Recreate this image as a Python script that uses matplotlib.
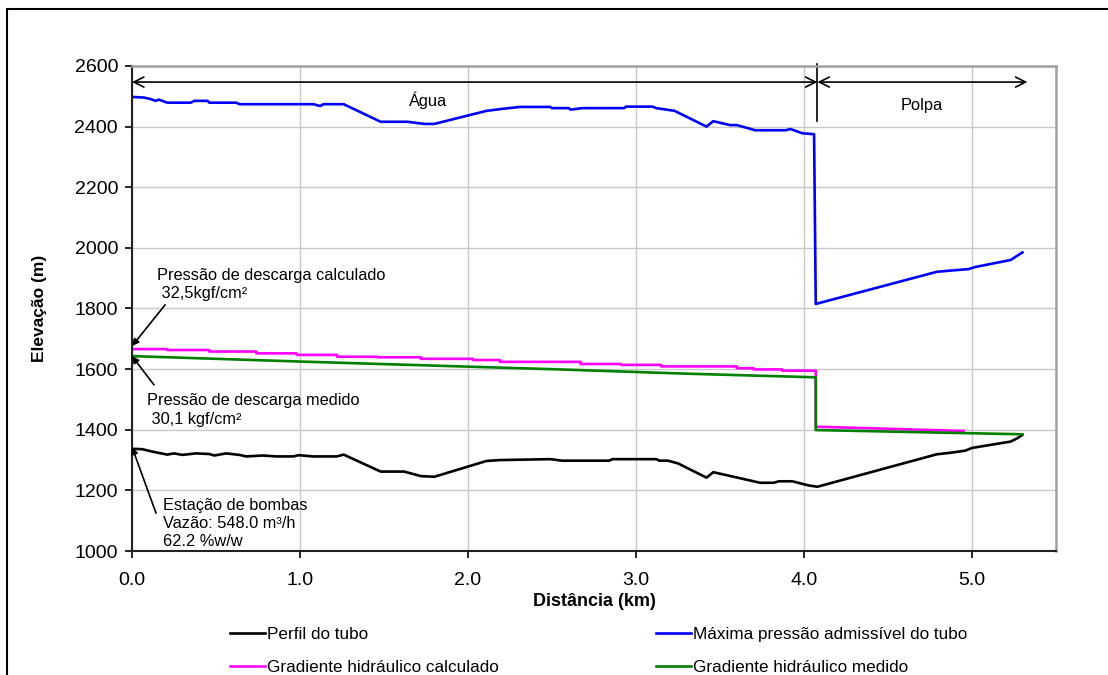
import matplotlib
matplotlib.use('Agg')
import matplotlib.pyplot as plt
from matplotlib.patches import Rectangle

plt.rcParams['font.family'] = ['Liberation Sans', 'DejaVu Sans']

# Perfil do tubo
perfil_x = [0.0, 0.06, 0.12, 0.21, 0.25, 0.30, 0.38, 0.46, 0.49, 0.56, 0.64, 0.68, 0.78, 0.86,
            0.96, 0.99, 1.08, 1.22, 1.26, 1.48, 1.62, 1.72, 1.80, 2.11, 2.19, 2.49, 2.56, 2.84,
            2.86, 3.12, 3.14, 3.19, 3.25, 3.42, 3.46, 3.58, 3.74, 3.82, 3.85, 3.93, 4.03, 4.08,
            4.79, 4.87, 4.96, 5.00, 5.23, 5.27, 5.30]
perfil_y = [1337, 1336, 1328, 1318, 1322, 1317, 1322, 1320, 1315, 1322, 1317, 1312, 1315, 1312,
            1312, 1316, 1312, 1312, 1318, 1262, 1262, 1247, 1245, 1297, 1300, 1303, 1298, 1298,
            1303, 1303, 1298, 1298, 1289, 1242, 1260, 1245, 1225, 1225, 1230, 1230, 1216, 1212,
            1319, 1324, 1331, 1340, 1361, 1372, 1383]

# Maxima pressao admissivel do tubo
maxp_x = [0.0, 0.07, 0.11, 0.14, 0.16, 0.21, 0.35, 0.37, 0.45, 0.46, 0.62, 0.64, 1.08, 1.12,
          1.14, 1.26, 1.48, 1.64, 1.74, 1.80, 2.11, 2.21, 2.31, 2.49, 2.50, 2.60, 2.61, 2.68,
          2.93, 2.94, 3.10, 3.12, 3.23, 3.42, 3.46, 3.56, 3.60, 3.71, 3.89, 3.92, 3.99, 4.06,
          4.07, 4.79, 4.85, 4.98, 5.02, 5.23, 5.30]
maxp_y = [2498, 2496, 2491, 2485, 2489, 2479, 2479, 2485, 2485, 2479, 2479, 2474, 2474, 2468,
          2474, 2474, 2416, 2416, 2409, 2409, 2452, 2459, 2465, 2465, 2461, 2461, 2456, 2461,
          2461, 2466, 2466, 2461, 2452, 2400, 2418, 2405, 2405, 2388, 2388, 2392, 2378, 2375,
          1815, 1921, 1924, 1930, 1937, 1960, 1985]

# Gradiente hidraulico calculado
calc_x = [0.0, 0.21, 0.21, 0.46, 0.46, 0.74, 0.74, 0.98, 0.98, 1.22, 1.22, 1.46, 1.46, 1.72,
          1.72, 2.03, 2.03, 2.19, 2.19, 2.67, 2.67, 2.91, 2.91, 3.15, 3.15, 3.60, 3.60, 3.70,
          3.70, 3.87, 3.87, 4.07, 4.07, 4.95]
calc_y = [1666, 1666, 1663, 1663, 1658, 1658, 1652, 1652, 1647, 1647, 1641, 1641, 1639, 1639,
          1634, 1634, 1630, 1630, 1624, 1624, 1617, 1617, 1614, 1614, 1609, 1609, 1603, 1603,
          1599, 1599, 1595, 1595, 1410, 1396]

# Gradiente hidraulico medido
med_x = [0.0, 1.0, 2.19, 2.49, 3.3, 4.07, 4.07, 5.30]
med_y = [1643, 1625, 1605, 1600, 1585, 1573, 1399, 1385]

x_ticks = [0.0, 1.0, 2.0, 3.0, 4.0, 5.0]
y_ticks = [1000, 1200, 1400, 1600, 1800, 2000, 2200, 2400, 2600]

fig = plt.figure(figsize=(11.08, 6.75), dpi=100)
ax = fig.add_axes([132 / 1108, 1 - 551 / 675, (1056 - 132) / 1108, (551 - 66) / 675])

ax.plot(perfil_x, perfil_y, color='black', lw=1.9, label='Perfil do tubo')
ax.plot(calc_x, calc_y, color='#ff00ff', lw=1.9, label='Gradiente hidráulico calculado')
ax.plot(maxp_x, maxp_y, color='#0000ff', lw=1.9, label='Máxima pressão admissível do tubo')
ax.plot(med_x, med_y, color='#008000', lw=1.9, label='Gradiente hidráulico medido')

ax.set_xlim(0, 5.5)
ax.set_ylim(1000, 2600)
ax.set_xticks(x_ticks)
ax.set_xticklabels([f'{v:.1f}' for v in x_ticks])
ax.set_yticks(y_ticks)
ax.grid(True, color='#c8c8c8', lw=1)
ax.set_axisbelow(True)
ax.tick_params(direction='out', length=5, width=1.2, labelsize=14)
ax.tick_params(axis='x', pad=10)
ax.tick_params(axis='y', pad=5)
for s in ['left', 'bottom']:
    ax.spines[s].set_color('#222222')
    ax.spines[s].set_linewidth(1.5)
for s in ['top', 'right']:
    ax.spines[s].set_color('#a0a0a0')
    ax.spines[s].set_linewidth(1.8)

ax.set_xlabel('Distância (km)', fontsize=13, fontweight='bold', labelpad=3)
ax.set_ylabel('Elevação (m)', fontsize=12.5, fontweight='bold', labelpad=20)

# secoes agua / polpa
ax.annotate('', xy=(0, 2547), xytext=(4.08, 2547),
            arrowprops=dict(arrowstyle='<->', color='black', lw=1.2, shrinkA=0, shrinkB=0,
                            mutation_scale=18))
ax.annotate('', xy=(4.08, 2547), xytext=(5.33, 2547),
            arrowprops=dict(arrowstyle='<->', color='black', lw=1.2, shrinkA=0, shrinkB=0,
                            mutation_scale=18))
ax.plot([4.08, 4.08], [2418, 2605], color='black', lw=1.2, clip_on=False)
ax.text(1.76, 2488, 'Água', fontsize=11.8, ha='center', va='center')
ax.text(4.70, 2471, 'Polpa', fontsize=11.8, ha='center', va='center')

arrow = dict(arrowstyle='-|>', color='black', lw=1.2, shrinkA=0, shrinkB=0, mutation_scale=10)
ax.annotate('', xy=(0, 1676), xytext=(0.197, 1812), arrowprops=arrow, annotation_clip=False)
ax.text(0.15, 1879, 'Pressão de descarga calculado\n 32,5kgf/cm²', fontsize=11.8,
        ha='left', va='center', linespacing=1.3)
ax.annotate('', xy=(0, 1643), xytext=(0.131, 1548), arrowprops=arrow, annotation_clip=False)
ax.text(0.09, 1465, 'Pressão de descarga medido\n 30,1 kgf/cm²', fontsize=11.8,
        ha='left', va='center', linespacing=1.3)
ax.annotate('', xy=(0, 1343), xytext=(0.143, 1125), arrowprops=arrow, annotation_clip=False)
ax.text(0.185, 1092, 'Estação de bombas\nVazão: 548.0 m³/h\n62.2 %w/w', fontsize=11.8,
        ha='left', va='center', linespacing=1.25)

fig.legend(loc='center', bbox_to_anchor=(599 / 1108, 1 - 651 / 675), ncol=2, frameon=False,
           fontsize=12.3, handlelength=2.0, handletextpad=0.17, columnspacing=9.2,
           labelspacing=1.03)

# moldura externa
fig.patches.append(Rectangle((7 / 1108, -0.2), 1.2, 1 - 9 / 675 + 0.2, transform=fig.transFigure,
                             fill=False, edgecolor='black', lw=1.5, clip_on=False))

fig.savefig('out.png', dpi=100)
